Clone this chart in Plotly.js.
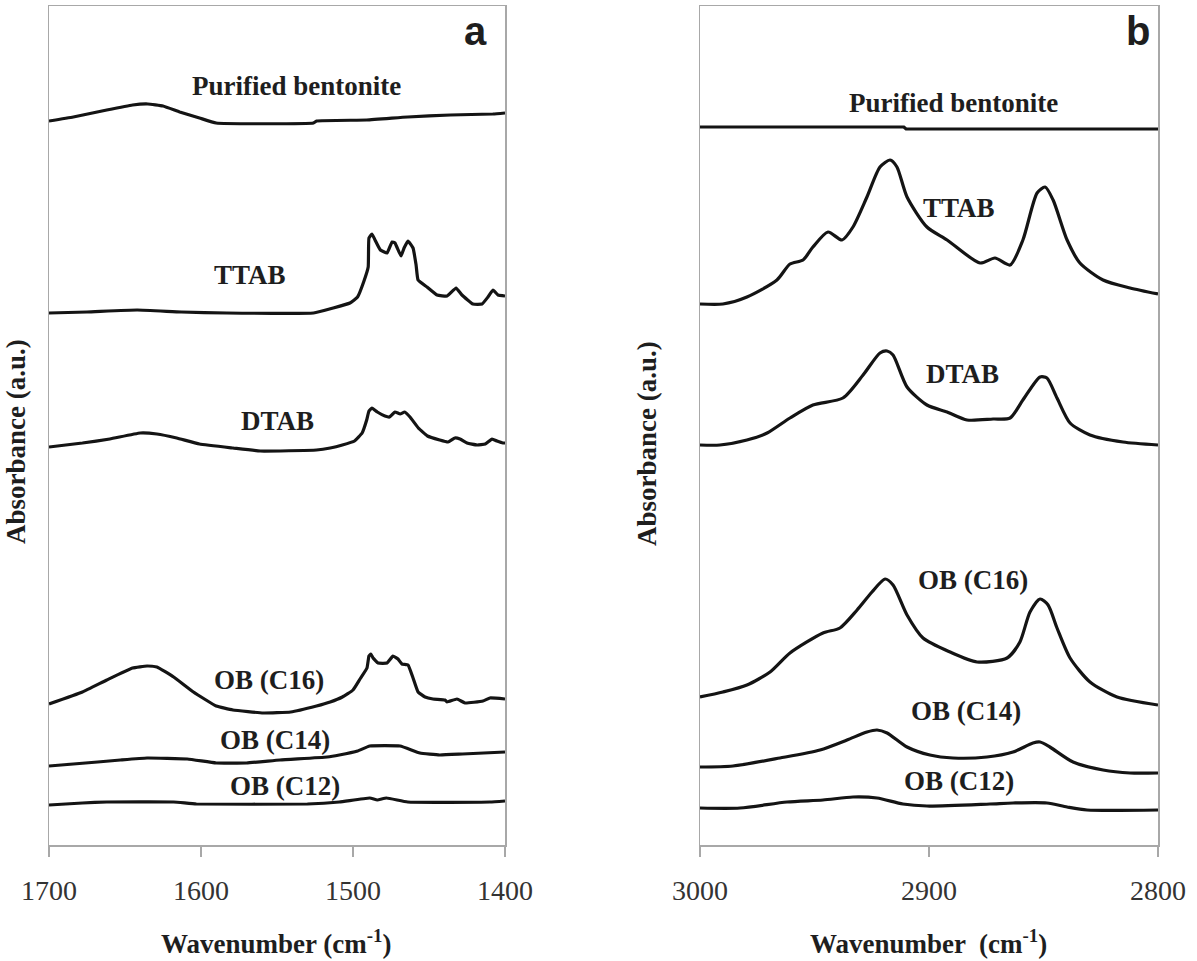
<!DOCTYPE html>
<html>
<head>
<meta charset="utf-8">
<script src="https://cdn.plot.ly/plotly-3.0.1.min.js"></script>
<style>html,body{margin:0;padding:0;background:#fff;}#chart{width:1197px;height:961px;}</style>
</head>
<body>
<div id="chart"></div>
<script>
// ---------- Panel a (1700–1400 cm-1) ----------
const aWavePB = [1700,1684,1662,1645,1635,1625,1614,1601,1590,1526,1524,1491,1464,1436,1408,1400];
const aAbsPB  = [724,728,735,740,741,739,733,727,722,722,724,725,728,730,731,732];

const aWaveTTAB = [1700,1675,1642,1613,1583,1526,1513,1502,1497,1493,1490,1489.5,1487.5,1485.5,1482,1477.6,1474.3,1472.4,1468.4,1466.4,1463.8,1460.5,1458.5,1457.2,1451.3,1444.7,1438.1,1432.2,1428.3,1421.1,1415.1,1411.2,1407.9,1404.6,1400];
const aAbsTTAB  = [532,533,535,533,532,532,537,542,548,563,578,607,611,605,595,592,603,602,589,597,604,597,580,565,558,550,549,557,550,541,541,548,555,550,549];

const aWaveDTAB = [1700,1678,1660,1640,1629,1616,1601,1579,1561,1524,1515,1507,1499,1494,1491,1489.5,1487.5,1484,1479,1476,1472.4,1469,1466,1462.5,1457,1451,1443,1437.5,1433,1429.6,1425,1418.4,1413,1408.5,1405.3,1401.3,1400];
const aAbsDTAB  = [398,402,406,412,411,407,401,397,394,395,397,400,404,412,425,434,437,433,429,428,433,431,433,428,417,409,405,403,407,406,402,400,401,406,404,402,402];

const aWaveC16 = [1700,1678,1662,1645,1635.5,1629,1618,1605,1590,1579,1559,1541,1524,1515,1507,1500,1495.4,1490.8,1489.5,1488.2,1486.8,1483.5,1477.6,1473.7,1470.4,1467.8,1463.8,1460.5,1457.2,1452.6,1447.4,1439.5,1438.1,1431.6,1426.3,1414.5,1409.9,1400];
const aAbsC16  = [141,153,165,177,179,178,168,153,139,135,132,133,139,143,148,155,166,177,189,191,187,182,182,189,186,181,180,167,153,148,146,145,143,146,142,144,147,146];

const aWaveC14 = [1700,1684,1668,1653,1635.5,1609,1590,1570,1548,1517,1509,1497,1489,1469,1456,1443,1428,1400];
const aAbsC14  = [79,81,83,85,87,86,82,82,85,88,90,94,99,99,92,90,91,93];

const aWaveC12 = [1700,1678,1662,1618,1603,1530,1509,1489,1484,1478,1464,1410,1400];
const aAbsC12  = [40,42,43,43,41,41,43,47,45,47,43,43,44];

// ---------- Panel b (3000–2800 cm-1) ----------
const bWavePB = [3000,2911,2910,2800];
const bAbsPB  = [718,718,716,716];

const bWaveTTAB = [3000,2990,2979.5,2966.4,2960.7,2955,2950.7,2944.1,2938,2933.2,2927.1,2921.4,2917,2914,2909.6,2900.9,2892.1,2877.7,2871.2,2864.6,2859,2852.8,2849.3,2845.8,2839.7,2834.1,2824,2812.2,2800];
const bAbsTTAB  = [541,541,548,565,581,585,598,613,605,618,648,678,685,678,648,618,605,582,587,580,605,652,658,645,605,582,565,557,551];

const bWaveDTAB = [3000,2991.3,2979.5,2970.7,2960.7,2950.7,2937.6,2928.8,2921.4,2918.3,2915.7,2909.6,2900.9,2892.1,2883.4,2872,2864.6,2859,2851.5,2848.5,2844.1,2838.4,2829.7,2815.3,2800];
const bAbsDTAB  = [400,400,405,412,427,440,447,470,492,494,490,458,440,433,425,426,427,445,468,467,447,422,410,403,400];

const bWaveC16 = [3000,2990,2979.5,2969.4,2960.7,2946.3,2938.9,2931.4,2924.9,2919.2,2915.7,2909.6,2902.6,2890.8,2879,2865.9,2860.3,2855.9,2851.5,2848,2844.1,2838.4,2829.7,2817.9,2800];
const bAbsC16  = [148,153,160,173,192,212,217,235,253,266,260,230,207,193,183,187,203,233,246,240,217,187,163,148,140];

const bWaveC14 = [3000,2985.6,2965.1,2947.6,2935.8,2927.1,2922.7,2918.3,2909.6,2899.6,2889.5,2874.7,2863.3,2854.6,2851.5,2847.2,2837.1,2824,2812.2,2800];
const bAbsC14  = [78,79,87,95,105,113,115,112,98,90,87,88,93,102,103,98,83,75,72,72];

const bWaveC12 = [3000,2982.5,2962,2946.3,2933.2,2922.7,2911.4,2900.9,2873.4,2863.3,2848.5,2839.7,2831,2800];
const bAbsC12  = [37,37,43,45,48,47,41,39,41,42,42,38,35,35];

const seriesNames = ['Purified bentonite','TTAB','DTAB','OB (C16)','OB (C14)','OB (C12)'];
const aTickVals = [1700,1600,1500,1400];
const bTickVals = [3000,2900,2800];

// ---------- styling ----------
const FRAME = '#a8a8a8';
const SERIF = 'Liberation Serif, Times New Roman, serif';
const SANS = 'Liberation Sans, Arial, sans-serif';

const panelA = [[aWavePB,aAbsPB],[aWaveTTAB,aAbsTTAB],[aWaveDTAB,aAbsDTAB],[aWaveC16,aAbsC16],[aWaveC14,aAbsC14],[aWaveC12,aAbsC12]];
const panelB = [[bWavePB,bAbsPB],[bWaveTTAB,bAbsTTAB],[bWaveDTAB,bAbsDTAB],[bWaveC16,bAbsC16],[bWaveC14,bAbsC14],[bWaveC12,bAbsC12]];

const traces = [];
panelA.forEach((d,i)=>traces.push({x:d[0],y:d[1],type:'scatter',mode:'lines',name:seriesNames[i],
  line:{color:'#141414',width:3.2,shape:'spline',smoothing:0.35},xaxis:'x',yaxis:'y',showlegend:false,hoverinfo:'x+name'}));
panelB.forEach((d,i)=>traces.push({x:d[0],y:d[1],type:'scatter',mode:'lines',name:seriesNames[i],
  line:{color:'#141414',width:3.2,shape:(i===0?'linear':'spline'),smoothing:0.7},xaxis:'x2',yaxis:'y2',showlegend:false,hoverinfo:'x+name'}));

// label placement (data coordinates of each panel)
const aLabelPos = [[1537,759],[1568,570],[1550,424],[1555,165],[1551,105],[1545,59]];
const bLabelPos = [[2889.5,742],[2887,637],[2885.5,471],[2881,265],[2884,134],[2887,64]];

const annotations = [];
const labFont = {family:SERIF, size:27, color:'#1e1e1e'};
seriesNames.forEach((n,i)=>{
  annotations.push({xref:'x',yref:'y',x:aLabelPos[i][0],y:aLabelPos[i][1],text:'<b>'+n+'</b>',showarrow:false,font:labFont,xanchor:'center',yanchor:'middle'});
  annotations.push({xref:'x2',yref:'y2',x:bLabelPos[i][0],y:bLabelPos[i][1],text:'<b>'+n+'</b>',showarrow:false,font:labFont,xanchor:'center',yanchor:'middle'});
});
// panel letters
annotations.push({xref:'paper',yref:'paper',x:475/1197,y:1-31/961,text:'<b>a</b>',showarrow:false,font:{family:SANS,size:40,color:'#1e1e1e'},xanchor:'center',yanchor:'middle'});
annotations.push({xref:'paper',yref:'paper',x:1138/1197,y:1-31/961,text:'<b>b</b>',showarrow:false,font:{family:SANS,size:40,color:'#1e1e1e'},xanchor:'center',yanchor:'middle'});
// axis titles
const titFont = {family:SERIF, size:27, color:'#1e1e1e'};
annotations.push({xref:'paper',yref:'paper',x:276/1197,y:1-942/961,text:'<b>Wavenumber (cm<sup>-1</sup>)</b>',showarrow:false,font:titFont,xanchor:'center',yanchor:'middle'});
annotations.push({xref:'paper',yref:'paper',x:928/1197,y:1-942/961,text:'<b>Wavenumber  (cm<sup>-1</sup>)</b>',showarrow:false,font:titFont,xanchor:'center',yanchor:'middle'});
annotations.push({xref:'paper',yref:'paper',x:16/1197,y:1-442/961,text:'<b>Absorbance (a.u.)</b>',showarrow:false,font:titFont,textangle:-90,xanchor:'center',yanchor:'middle'});
annotations.push({xref:'paper',yref:'paper',x:647/1197,y:1-444/961,text:'<b>Absorbance (a.u.)</b>',showarrow:false,font:titFont,textangle:-90,xanchor:'center',yanchor:'middle'});

const xCommon = {showgrid:false, zeroline:false, showline:true, linecolor:FRAME, linewidth:1.5, mirror:true,
  ticks:'outside', ticklen:10, tickwidth:1.5, tickcolor:FRAME, ticklabelstandoff:10,
  tickfont:{family:SERIF, size:28, color:'#333'}};
const yCommon = {showgrid:false, zeroline:false, showline:true, linecolor:FRAME, linewidth:1.5, mirror:true,
  ticks:'', showticklabels:false, range:[0,839], fixedrange:true};

const layout = {
  width:1197, height:961,
  margin:{l:0,r:0,t:0,b:0},
  paper_bgcolor:'#fff', plot_bgcolor:'#fff',
  showlegend:false,
  xaxis: Object.assign({}, xCommon, {domain:[49/1197,505/1197], range:[1700,1400], tickvals:aTickVals, anchor:'y'}),
  yaxis: Object.assign({}, yCommon, {domain:[1-845/961,1-6/961], anchor:'x'}),
  xaxis2: Object.assign({}, xCommon, {domain:[700/1197,1158/1197], range:[3000,2800], tickvals:bTickVals, anchor:'y2'}),
  yaxis2: Object.assign({}, yCommon, {domain:[1-845/961,1-6/961], anchor:'x2'}),
  annotations: annotations
};

Plotly.newPlot('chart', traces, layout, {displayModeBar:false, staticPlot:true});
</script>
</body>
</html>
